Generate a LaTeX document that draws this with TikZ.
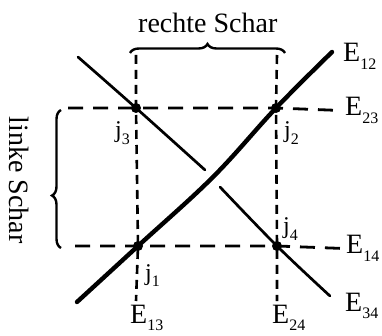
\documentclass[tikz,border=0pt]{standalone}
\usepackage{fontspec}
\setmainfont{Liberation Serif}
\usetikzlibrary{decorations.pathreplacing}
\newcommand{\lowidx}[1]{\raisebox{-0.26em}{\fontsize{16}{16}\selectfont #1}}
\begin{document}
\begin{tikzpicture}[x=1pt,y=-1pt,
  lbl/.style={inner sep=0pt,anchor=base west,font=\fontsize{28}{30}\selectfont},
  jlbl/.style={inner sep=0pt,anchor=base west,font=\fontsize{24}{26}\selectfont},
  hdash/.style={line width=2.8pt,dash pattern=on 15pt off 10pt},
  vdash/.style={line width=2.6pt,dash pattern=on 9pt off 6pt},
  thickln/.style={line width=4.4pt,line cap=round},
  thinln/.style={line width=2.7pt,line cap=round},
  bracel/.style={line width=2.4pt,decorate,decoration={brace,amplitude=9pt}},
  dot/.style={circle,fill,inner sep=0pt,minimum size=10pt}]
\useasboundingbox (0,0) rectangle (382,336);
% intersections
\node[dot] (j1) at (138,246) {};
\node[dot] (j2) at (276,108) {};
\node[dot] (j3) at (136,108) {};
\node[dot] (j4) at (277,246) {};
% labels
\node[lbl] (E12) at (343,62) {E\lowidx{12}};
\node[lbl] (E23) at (345,116) {E\lowidx{23}};
\node[lbl] (E14) at (346,254) {E\lowidx{14}};
\node[lbl] (E34) at (345,311) {E\lowidx{34}};
\node[lbl] (E13) at (130,323) {E\lowidx{13}};
\node[lbl] (E24) at (272,323) {E\lowidx{24}};
\node[jlbl] (lj3) at (115,138) {j\lowidx{3}};
\node[jlbl] (lj2) at (284,138) {j\lowidx{2}};
\node[jlbl] (lj4) at (283,234) {j\lowidx{4}};
\node[jlbl] (lj1) at (145,280) {j\lowidx{1}};
\node[lbl] (rs) at (138,33) {rechte Schar};
\node[inner sep=0pt,font=\fontsize{28}{30}\selectfont,rotate=-90] (ls) at (19,180) {linke Schar};
% coordinates
\coordinate (a1) at (77,302);
\coordinate (a2) at (213,177);
\coordinate (a3) at (332,52);
\coordinate (b1) at (78,57);
\coordinate (b2) at (205,170);
\coordinate (b3) at (220,187);
\coordinate (b4) at (330,296);
\coordinate (h1) at (68,108);
\coordinate (h2) at (75,246);
\coordinate (v1t) at (136,55);
\coordinate (v1b) at (136,301);
\coordinate (v2t) at (277,55);
\coordinate (v2b) at (277,301);
% dashed lines
\draw[hdash] (h1) -- (j3.center) -- (j2.center) -- ([xshift=-3pt]E23.west);
\draw[hdash] (h2) -- (j1.center) -- (j4.center) -- ([xshift=-3pt]E14.west);
\draw[vdash] (v1t) -- (j3.center) -- (j1.center) -- (v1b);
\draw[vdash] (v2t) -- (j2.center) -- (j4.center) -- (v2b);
% curves
\draw[thickln] plot[smooth,tension=0.6] coordinates {(a1) (j1.center) (a2) (j2.center) (a3)};
\draw[thinln] plot[smooth,tension=0.6] coordinates {(b1) (j3.center) (b2)};
\draw[thinln] plot[smooth,tension=0.6] coordinates {(b3) (j4.center) (b4)};
% braces
\coordinate (tb1) at (130,53);
\coordinate (tb2) at (285,53);
\draw[bracel] (tb1) -- (tb2);
\coordinate (lb1) at (61,248);
\coordinate (lb2) at (61,110);
\draw[bracel,decoration={aspect=0.38}] (lb1) -- (lb2);
\end{tikzpicture}
\end{document}
